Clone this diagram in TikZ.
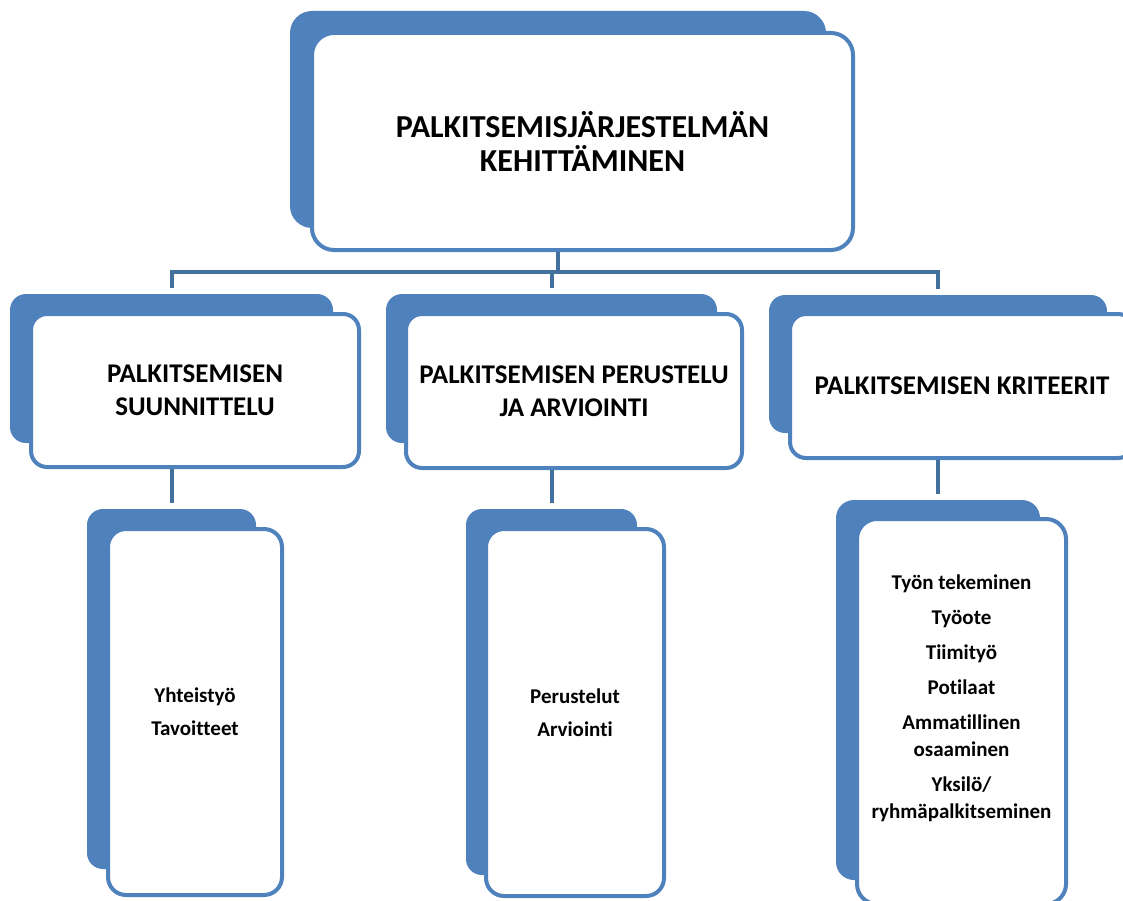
\documentclass[tikz,border=0pt]{standalone}
\usepackage{fontspec}
\setmainfont{Carlito}[Ligatures=NoCommon]
\definecolor{boxblue}{HTML}{4F81BD}
\definecolor{linkblue}{HTML}{41719C}

\begin{document}
\begin{tikzpicture}[x=1pt,y=-1pt,
  backbox/.style={rectangle, draw=none, fill=boxblue, inner sep=0pt, outer sep=0pt},
  frontbox/.style={rectangle, draw=boxblue, fill=white, line width=4pt, inner sep=0pt, outer sep=0pt, align=center, text=black},
  link/.style={draw=linkblue, line width=4pt},
  toptext/.style={font=\bfseries\fontsize{32}{34}\selectfont},
  midtext/.style={font=\bfseries\fontsize{27}{33}\selectfont},
  lowtext/.style={font=\bfseries\fontsize{21}{27}\selectfont}
]
\useasboundingbox (0,0) rectangle (1123,901);
\clip (0,0) rectangle (1123,901);

% back panels (filled) -- drawn first so connectors sit on top of them only where visible
\node[backbox, rounded corners=22pt, minimum width=536pt, minimum height=217pt] (tb) at (558,119.5) {};
\node[backbox, rounded corners=16pt, minimum width=323pt, minimum height=149pt] (b1) at (171.5,368.5) {};
\node[backbox, rounded corners=16pt, minimum width=331pt, minimum height=149pt] (b2) at (551.5,368.5) {};
\node[backbox, rounded corners=16pt, minimum width=338pt, minimum height=138pt] (b3) at (938,364) {};
\node[backbox, rounded corners=16pt, minimum width=169pt, minimum height=360pt] (c1) at (171.5,689) {};
\node[backbox, rounded corners=16pt, minimum width=171pt, minimum height=366pt] (c2) at (551.5,692) {};
\node[backbox, rounded corners=18pt, minimum width=204pt, minimum height=380pt] (c3) at (938,690) {};

% connectors
\draw[link] (tb.south) -- ++(0,44) coordinate (hub);
\draw[link, shorten >=6pt] (hub) -| (b1.north);
\draw[link, shorten >=6pt] (hub) -| (b2.north);
\draw[link, shorten >=6pt] (hub) -| (b3.north);
\draw[link, shorten >=6pt] (b1.south) -- (c1.north);
\draw[link, shorten >=6pt] (b2.south) -- (c2.north);
\draw[link, shorten >=6pt] (b3.south) -- (c3.north);

% front panels with their texts
\node[frontbox, toptext, rounded corners=22pt, minimum width=541pt, minimum height=217pt] (t) at (582.5,141.5)
  {PALKITSEMISJÄRJESTELMÄN\\KEHITTÄMINEN};
\node[frontbox, midtext, rounded corners=16pt, minimum width=328pt, minimum height=153pt] (m1) at (195,390.5)
  {PALKITSEMISEN\\SUUNNITTELU};
\node[frontbox, midtext, rounded corners=16pt, minimum width=336pt, minimum height=154pt] (m2) at (574,391)
  {PALKITSEMISEN PERUSTELU\\JA ARVIOINTI};
\node[frontbox, midtext, rounded corners=16pt, minimum width=344pt, minimum height=144pt] (m3) at (962,386)
  {PALKITSEMISEN KRITEERIT};
\node[frontbox, lowtext, rounded corners=18pt, minimum width=174pt, minimum height=366pt] (l1) at (195,712)
  {Yhteistyö\\[6pt]Tavoitteet};
\node[frontbox, lowtext, rounded corners=18pt, minimum width=178pt, minimum height=367pt] (l2) at (575,712.5)
  {Perustelut\\[6pt]Arviointi};
\node[frontbox, rounded corners=20pt, minimum width=209pt, minimum height=385pt] (l3) at (961.5,711.5) {};
\node[lowtext, align=center, inner sep=0pt] (l3text) at ([yshift=13pt]l3.center)
  {Työn tekeminen\\[8pt]Työote\\[8pt]Tiimityö\\[8pt]Potilaat\\[8pt]Ammatillinen\\osaaminen\\[8pt]Yksilö/\\ryhmäpalkitseminen};
\end{tikzpicture}
\end{document}
